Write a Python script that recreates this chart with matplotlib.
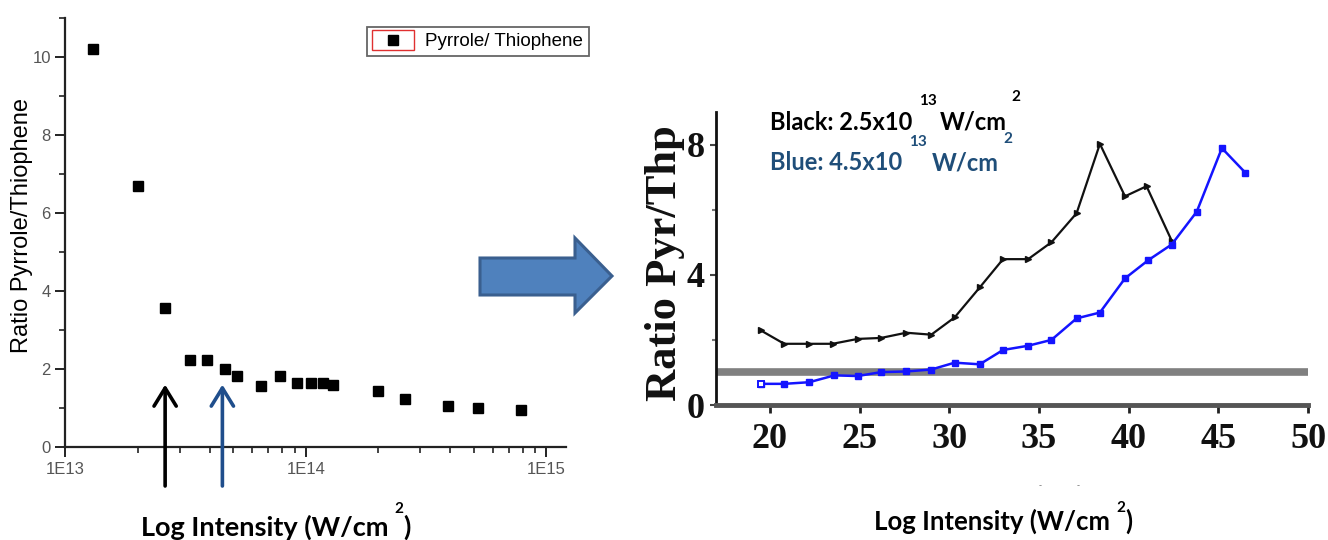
import matplotlib
matplotlib.use("Agg")
import matplotlib.pyplot as plt
from matplotlib.patches import Polygon, Rectangle
from matplotlib.transforms import IdentityTransform
from matplotlib.ticker import LogLocator, FuncFormatter, MultipleLocator, NullFormatter, FormatStrFormatter
import numpy as np

W, H = 1328, 540

# ratio pyrrole/thiophene vs. peak intensity (log axis)
intensity = [1.3e13, 2.0e13, 2.6e13, 3.3e13, 3.9e13, 4.6e13, 5.2e13, 6.5e13, 7.8e13,
             9.2e13, 1.05e14, 1.18e14, 1.3e14, 2.0e14, 2.6e14, 3.9e14, 5.2e14, 7.9e14]
ratio = [10.2, 6.7, 3.56, 2.23, 2.23, 2.0, 1.83, 1.56, 1.82,
         1.65, 1.63, 1.63, 1.59, 1.44, 1.24, 1.05, 1.0, 0.95]
marker_intensities = [2.6e13, 4.5e13]

# ratio Pyr/Thp at two intensities
x_black = [19.5, 20.8, 22.2, 23.5, 24.9, 26.2, 27.6, 29.0, 30.3, 31.7, 33.0, 34.4,
           35.7, 37.1, 38.4, 39.8, 41.0, 42.4]
y_black = [2.29, 1.88, 1.88, 1.88, 2.03, 2.06, 2.22, 2.16, 2.69, 3.61, 4.48, 4.48,
           5.0, 5.89, 8.02, 6.41, 6.72, 5.05]
x_blue = [19.5, 20.8, 22.2, 23.6, 24.9, 26.2, 27.6, 29.0, 30.3, 31.7, 33.0, 34.4,
          35.7, 37.1, 38.4, 39.8, 41.1, 42.4, 43.8, 45.2, 46.5]
y_blue = [0.65, 0.65, 0.70, 0.91, 0.89, 1.01, 1.03, 1.09, 1.30, 1.25, 1.69, 1.82,
          2.0, 2.66, 2.84, 3.89, 4.45, 4.93, 5.94, 7.89, 7.14]
ref_level = 1.0

SANS = ['Liberation Sans', 'DejaVu Sans']
SERIF = ['Liberation Serif', 'DejaVu Serif']
CAL = ['Lato', 'DejaVu Sans']
BLUE_TXT = '#1f4e79'


def box(l, t, r, b):
    return [l / W, 1 - b / H, (r - l) / W, (b - t) / H]


def ptext(x, y, s, **kw):
    # text placed by pixel position (y from top)
    return fig.text(x / W, 1 - y / H, s, **kw)


fig = plt.figure(figsize=(W / 100, H / 100), dpi=100)

# ---- left: scatter on log axis
ax1 = fig.add_axes(box(65.4, 18, 566, 447))
ax1.plot(intensity, ratio, ls='none', marker='s', ms=7.2, color='black',
         label='Pyrrole/ Thiophene', zorder=3, clip_on=False)
ax1.set_xscale('log')
ax1.set_xlim(1e13, 10 ** 15.083)
ax1.set_ylim(0, 11)
for side in ['top', 'right']:
    ax1.spines[side].set_visible(False)
for side in ['left', 'bottom']:
    ax1.spines[side].set_linewidth(1.6)
    ax1.spines[side].set_color('#222222')
ax1.yaxis.set_major_locator(MultipleLocator(2))
ax1.yaxis.set_minor_locator(MultipleLocator(1))
ax1.xaxis.set_major_locator(LogLocator(base=10))
ax1.xaxis.set_minor_locator(LogLocator(base=10, subs=np.arange(2, 10)))
ax1.xaxis.set_minor_formatter(NullFormatter())
ax1.xaxis.set_major_formatter(FuncFormatter(lambda v, p: f"1E{int(round(np.log10(v)))}"))
ax1.tick_params(which='major', direction='out', length=7, width=1.4, color='#222222',
                labelsize=12, labelcolor='#555555')
ax1.tick_params(which='minor', direction='out', length=4, width=1.2, color='#222222')
for lbl in ax1.get_xticklabels() + ax1.get_yticklabels():
    lbl.set_fontfamily(SANS)

leg = ax1.legend(loc='upper right', bbox_to_anchor=(598 / W, 1 - 18 / H),
                 bbox_transform=fig.transFigure, fancybox=False, framealpha=1,
                 edgecolor='#666666', numpoints=1, handlelength=2.2,
                 borderpad=0.3, handletextpad=0.6,
                 prop={'family': SANS, 'size': 13.5})
leg.get_frame().set_linewidth(1.3)

for xv, col in zip(marker_intensities, ['black', '#1f4e8c']):
    ax1.annotate('', xy=(xv, 1.6), xytext=(xv, -1.0),
                 arrowprops=dict(arrowstyle='->,head_length=0.65,head_width=0.4',
                                 lw=2.6, color=col, shrinkA=0, shrinkB=0,
                                 mutation_scale=20),
                 annotation_clip=False)

ptext(22, 225, 'Ratio Pyrrole/Thiophene', rotation=90, ha='center', va='center',
      fontsize=17, family=SANS)

# ---- right: two intensity series
ax2 = fig.add_axes(box(716, 112, 1308, 405))
ax2.axhline(ref_level, color='#808080', lw=5.5, zorder=1)
ax2.plot(x_black, y_black, color='#111111', lw=1.6, marker='>', ms=5, zorder=3)
ax2.plot(x_blue, y_blue, color='#1414ff', lw=1.8, marker='s', ms=4.5, zorder=3)
ax2.plot(x_blue[:1], y_blue[:1], ls='none', marker='s', ms=4.5, mfc='white',
         mec='#1414ff', mew=1.4, zorder=4)
ax2.set_xlim(17, 50)
ax2.set_ylim(0, 9)
for side in ['top', 'right']:
    ax2.spines[side].set_visible(False)
ax2.spines['left'].set_linewidth(2)
ax2.spines['left'].set_color('#111111')
ax2.spines['bottom'].set_linewidth(3.5)
ax2.spines['bottom'].set_color('#555555')
ax2.xaxis.set_major_locator(MultipleLocator(5))
ax2.xaxis.set_major_formatter(FormatStrFormatter('%d'))
ax2.yaxis.set_major_locator(MultipleLocator(4))
ax2.yaxis.set_minor_locator(MultipleLocator(2))
ax2.tick_params(axis='x', direction='out', length=6, width=2, color='#222222',
                labelsize=26, pad=7)
ax2.tick_params(axis='y', which='major', direction='out', length=4, width=1.5,
                color='#444444', labelsize=26, pad=4)
ax2.tick_params(axis='y', which='minor', direction='out', length=3, width=1.5,
                color='#777777')
for lbl in ax2.get_xticklabels() + ax2.get_yticklabels():
    lbl.set_fontfamily(SERIF)
    lbl.set_fontweight('bold')
    lbl.set_color('#111111')

ptext(665, 263, 'Ratio Pyr/Thp', rotation=90, ha='center', va='center',
      fontsize=32, family=SERIF, fontweight='bold', color='#111111')

# intensity annotations
ptext(770, 130, 'Black: 2.5x10', fontsize=17, family=CAL, fontweight='bold', color='black')
ptext(919, 105, '13', fontsize=11, family=CAL, fontweight='bold', color='black')
ptext(940, 130, 'W/cm', fontsize=17, family=CAL, fontweight='bold', color='black')
ptext(1011, 101, '2', fontsize=11, family=CAL, fontweight='bold', color='black')
ptext(770, 170, 'Blue: 4.5x10', fontsize=17, family=CAL, fontweight='bold', color=BLUE_TXT)
ptext(909, 146, '13', fontsize=11, family=CAL, fontweight='bold', color=BLUE_TXT)
ptext(932, 170, 'W/cm', fontsize=17, family=CAL, fontweight='bold', color=BLUE_TXT)
ptext(1003, 143, '2', fontsize=11, family=CAL, fontweight='bold', color=BLUE_TXT)

# x axis titles
for right_edge, base, sup_base, size in [(388, 536, 513, 19.5), (1110, 530, 512, 18.5)]:
    ptext(right_edge, base, 'Log Intensity (W/cm', ha='right', va='baseline',
          fontsize=size, family=CAL, fontweight='bold')
    ptext(right_edge + 11, sup_base, '2', ha='center', va='baseline',
          fontsize=11, family=CAL, fontweight='bold')
    ptext(right_edge + 15, base, ')', ha='left', va='baseline',
          fontsize=size, family=CAL, fontweight='bold')

ptext(1040, 486, '-', ha='center', va='center', fontsize=6, color='#777777')
ptext(1078, 486, '-', ha='center', va='center', fontsize=6, color='#777777')

# block arrow between the panels
arrow_px = [(480, 258), (575, 258), (575, 238), (612, 276), (575, 313), (575, 295), (480, 295)]
fig.patches.append(Polygon([(x / W, 1 - y / H) for x, y in arrow_px], closed=True,
                           facecolor='#4f81bd', edgecolor='#3a5f8f', lw=2.2,
                           transform=fig.transFigure, figure=fig))

# red outline round the legend symbol
fig.canvas.draw()
hb = leg.legend_handles[0].get_window_extent(fig.canvas.get_renderer())
cx, cy = (hb.x0 + hb.x1) / 2, (hb.y0 + hb.y1) / 2
fig.patches.append(Rectangle((cx - 21, cy - 10), 42, 20, fill=False, edgecolor='#e03030',
                             lw=1.0, transform=IdentityTransform(), figure=fig))

fig.savefig('out.png', dpi=100, facecolor='white')
